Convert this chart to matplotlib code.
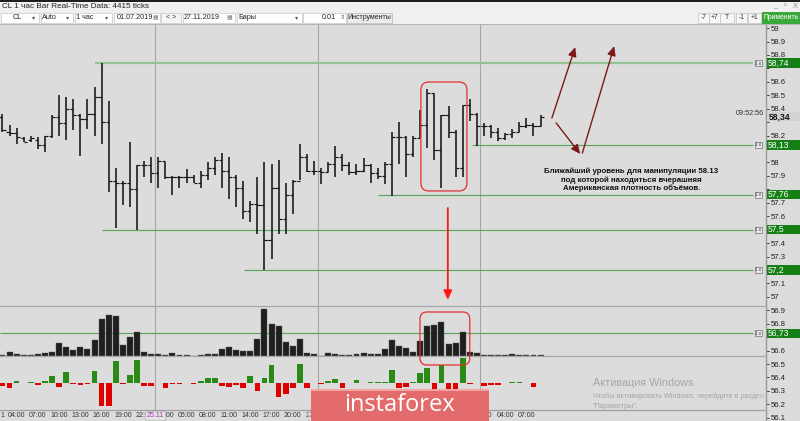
import numpy as np
import matplotlib
matplotlib.use('Agg')
import matplotlib.pyplot as plt
from matplotlib.patches import Rectangle, FancyBboxPatch, FancyArrowPatch
from matplotlib.transforms import IdentityTransform, blended_transform_factory

plt.rcParams['font.family'] = ['Liberation Sans', 'DejaVu Sans']

# ---------------- data ----------------
open_ = [58.34, 58.23, 58.22, 58.18, 58.17, 58.17, 58.13, 58.20, 58.34, 58.29,
         58.40, 58.35, 58.32, 58.36, 58.49, 58.30, 57.86, 57.85, 57.85, 57.80,
         57.98, 57.98, 57.92, 58.01, 57.89, 57.89, 57.89, 57.89, 57.85, 57.91,
         57.96, 58.02, 57.94, 57.89, 57.81, 57.64, 57.69, 57.68, 57.42, 57.81,
         57.58, 57.76, 57.86, 58.04, 57.94, 57.94, 57.93, 57.99, 58.04, 57.98,
         57.93, 57.94, 57.98, 57.92, 57.90, 57.99, 58.19, 58.19, 58.06, 58.18,
         58.28, 58.52, 58.09, 58.35, 58.23, 57.96, 58.43, 58.36, 58.27, 58.27,
         58.23, 58.18, 58.21, 58.23, 58.27, 58.28, 58.27]
high = [58.36, 58.28, 58.26, 58.19, 58.20, 58.19, 58.20, 58.35, 58.50, 58.49,
        58.47, 58.36, 58.47, 58.56, 58.74, 58.46, 57.96, 57.86, 58.15, 57.98,
        58.01, 58.04, 58.04, 58.00, 57.90, 57.90, 57.95, 57.91, 57.94, 58.00,
        58.04, 58.07, 58.04, 57.91, 57.86, 57.71, 57.89, 58.00, 57.99, 58.02,
        57.85, 57.87, 58.14, 58.06, 58.01, 57.96, 58.00, 58.12, 58.06, 58.00,
        57.99, 58.03, 57.99, 57.96, 58.00, 58.23, 58.30, 58.20, 58.20, 58.39,
        58.55, 58.51, 58.35, 58.42, 58.24, 58.43, 58.47, 58.37, 58.29, 58.28,
        58.26, 58.22, 58.25, 58.30, 58.33, 58.29, 58.35]
low = [58.23, 58.20, 58.14, 58.15, 58.15, 58.10, 58.08, 58.18, 58.20, 58.17,
       58.24, 58.05, 58.25, 58.20, 58.14, 57.78, 57.51, 57.68, 57.67, 57.50,
       57.89, 57.85, 57.81, 57.88, 57.76, 57.81, 57.85, 57.85, 57.81, 57.87,
       57.91, 57.81, 57.73, 57.67, 57.58, 57.56, 57.47, 57.20, 57.28, 57.47,
       57.47, 57.62, 57.87, 57.93, 57.91, 57.84, 57.93, 57.89, 57.94, 57.91,
       57.91, 57.93, 57.85, 57.88, 57.84, 57.75, 57.99, 57.89, 58.04, 58.18,
       58.11, 58.02, 57.81, 58.18, 57.89, 57.89, 58.31, 58.12, 58.20, 58.18,
       58.16, 58.17, 58.18, 58.23, 58.26, 58.20, 58.27]
close = [58.24, 58.22, 58.19, 58.15, 58.18, 58.13, 58.20, 58.34, 58.29, 58.40,
         58.35, 58.32, 58.36, 58.49, 58.30, 57.86, 57.85, 57.85, 57.80, 57.98,
         57.98, 57.92, 58.01, 57.89, 57.89, 57.89, 57.89, 57.85, 57.91, 57.96,
         58.02, 57.94, 57.89, 57.81, 57.64, 57.69, 57.68, 57.42, 57.81, 57.58,
         57.76, 57.86, 58.04, 57.94, 57.94, 57.93, 57.99, 58.04, 57.98, 57.93,
         57.94, 57.98, 57.92, 57.90, 57.99, 58.19, 58.19, 58.06, 58.18, 58.28,
         58.52, 58.09, 58.35, 58.23, 57.96, 58.43, 58.36, 58.27, 58.27, 58.23,
         58.18, 58.21, 58.23, 58.27, 58.28, 58.27, 58.34]
volume = [400, 1100, 600, 400, 200, 500, 800, 1300, 3800, 2700,
          1900, 2800, 2100, 4900, 11000, 12200, 11900, 3400, 5800, 7200,
          1100, 700, 700, 400, 800, 400, 400, 100, 400, 600,
          600, 2100, 2600, 1700, 1500, 1600, 5200, 14200, 9600, 9000,
          4100, 3100, 5200, 1000, 500, 100, 1000, 700, 400, 400,
          600, 800, 600, 700, 2200, 4900, 3100, 2500, 1300, 4500,
          9000, 9400, 10200, 3700, 4000, 7200, 1200, 1000, 300, 300,
          400, 300, 600, 300, 300, 400, 200]
delta = [-800, -1500, 700, 100, 200, -500, 700, 2100, -1100, 3400,
         -400, -600, -200, 3600, -6900, -6900, 6700, -200, 2400, 6900,
         -1000, -1000, 100, -1500, -400, -200, -100, -400, 700, 1500,
         1500, -1000, -1300, -700, -1400, 2000, -2300, 1400, 5500, -4200,
         -3200, -1600, 5600, -1600, 100, -400, 600, 1200, -1600, -100,
         800, 100, 200, 200, 400, 4000, -1500, -1300, 200, 3000,
         4500, -1700, 5400, -1700, -1700, 7500, -200, 0, -1000, -500,
         -500, 100, 400, 400, 100, -1200, 100]

levels = [58.74, 58.13, 57.76, 57.5, 57.2, 56.73]
level_labels = ['58,74', '58,13', '57,76', '57,5', '57,2', '56,73']
level_start_bar = [13.1, 66.3, 53.0, 14.0, 34.1, -0.4]
last_price = 58.34
last_price_label = '58,34'
server_time = '09:52:56'
days = ['24.11', '25.11', '26.11', '27.11']
day_first_hour = [2, 1, 1, 1]
day_bar_count = [22, 23, 23, 9]
note = ('Ближайший уровень для манипуляции 58.13\n'
        'под которой находиться вчерашняя\n'
        'Американская плотность объёмов.')

# ---------------- figure ----------------
W, H = 800, 421
BG = '#dcdcdc'
fig = plt.figure(figsize=(8, 4.21), dpi=100)
fig.patch.set_facecolor(BG)

def fx(x):
    return x / W

def fy(y):
    return 1 - y / H

def frect(x0, y0, x1, y1, z=10, **kw):
    r = Rectangle((fx(x0), fy(y1)), (x1 - x0) / W, (y1 - y0) / H,
                  transform=fig.transFigure, zorder=z, **kw)
    fig.add_artist(r)
    return r

def ftext(x, y, s, z=11, **kw):
    kw.setdefault('va', 'center')
    return fig.text(fx(x), fy(y), s, zorder=z, **kw)

n = len(close)
xs = np.arange(n)
XL = (-0.353, 107.84)
AXW = 766 / W
BANNER = (311, 489)          # pixel span of the watermark banner

def bar_px(k):
    return (k - XL[0]) / (XL[1] - XL[0]) * 766

# price axes
ax = fig.add_axes([0, 0, AXW, 396 / H])
ax.set_facecolor(BG)
ax.set_xlim(*XL)
ax.set_ylim(56.076, 59.023)
for s in ['top', 'left', 'bottom']:
    ax.spines[s].set_visible(False)
ax.spines['right'].set_color('#9a9a9a')
ax.spines['right'].set_linewidth(1.0)
ax.set_xticks([])
ax.yaxis.tick_right()
ticks = np.round(np.arange(56.1, 59.001, 0.1), 1)
covered = levels + [last_price]
ax.set_yticks(ticks)
ax.set_yticklabels(['' if min(abs(t - c) for c in covered) < 0.045 else f'{t:g}' for t in ticks])
ax.tick_params(axis='y', direction='out', length=2.5, width=0.6, colors='#222',
               labelsize=5.6, pad=0.6)

# day separators
ymin_frac = 11 / 396
for k in np.cumsum(day_bar_count)[:-1]:
    ax.axvline(k - 0.5, ymin=ymin_frac, ymax=1, color='#a6a6a6', lw=0.8, zorder=0.5)

# levels
for i, (lv, st) in enumerate(zip(levels, level_start_bar)):
    if i == 0:
        ax.hlines(lv, st, 106.0, colors='#93c293', lw=1.6, zorder=1)
    else:
        ax.hlines(lv, st, 106.0, colors='#5da55d', lw=0.85, zorder=1)

# OHLC bars
ax.vlines(xs, low, high, colors='#151515', lw=1.15, zorder=3)
ax.hlines(open_, xs - 0.45, xs, colors='#151515', lw=0.85, zorder=3)
ax.hlines(close, xs, xs + 0.45, colors='#151515', lw=0.85, zorder=3)

# level markers on right
bt = blended_transform_factory(fig.transFigure, ax.transData)
hh = 4.6 / 134.4
for lv, lab in zip(levels, level_labels):
    ax.text(106.75, lv, '1 x', fontsize=3.3, color='#333', ha='center', va='center',
            zorder=5, bbox=dict(boxstyle='square,pad=0.12', fc='#e6e6e6', ec='#555', lw=0.4))
    ax.add_patch(Rectangle((766.5 / W, lv - hh), 1 - 766.5 / W, 2 * hh, transform=bt,
                           fc='#168016', ec='none', clip_on=False, zorder=6))
    ax.text(768 / W, lv, lab, transform=bt, color='white', fontsize=6.2, ha='left',
            va='center', zorder=7, clip_on=False)

# last price
ax.add_patch(Rectangle((766.5 / W, last_price - hh), 1 - 766.5 / W, 2 * hh, transform=bt,
                       fc='#d2d2d2', ec='none', clip_on=False, zorder=6))
ax.text(769 / W, last_price - 0.005, last_price_label, transform=bt, color='#111', fontsize=6.2,
        fontweight='bold', ha='left', va='center', zorder=7, clip_on=False)
ax.text(764 / W, last_price + 0.022, server_time, transform=bt, color='#333', fontsize=5.2,
        ha='right', va='center', zorder=7, clip_on=False)

# volume axes
vax = fig.add_axes([0, (H - 356) / H, AXW, 50 / H])
vax.patch.set_alpha(0)
vax.set_xlim(*XL)
vax.set_ylim(0, 15000)
vax.set_xticks([]); vax.set_yticks([])
for s in ['left', 'right']:
    vax.spines[s].set_visible(False)
for s in ['top', 'bottom']:
    vax.spines[s].set_color('#a8a8a8'); vax.spines[s].set_linewidth(0.9)
vax.bar(xs, volume, width=0.84, color='#1f1f1f', edgecolor='#5a5a5a', linewidth=0.3)

# delta axes
dax = fig.add_axes([0, 11 / H, AXW, 54 / H])
dax.patch.set_alpha(0)
dax.set_xlim(*XL)
dax.set_ylim(-8100, 8100)
dax.set_yticks([])
for s in ['left', 'right', 'top']:
    dax.spines[s].set_visible(False)
dax.spines['bottom'].set_color('#a0a0a0'); dax.spines['bottom'].set_linewidth(0.9)
dcol = ['#2b8a16' if d >= 0 else '#e00000' for d in delta]
dax.bar(xs, delta, width=0.8, color=dcol, linewidth=0)

# time labels (labels entirely hidden under the watermark banner are skipped)
tick_pos, tick_lab = [], []
k = 0
for dname, h0, cnt in zip(days, day_first_hour, day_bar_count):
    for j in range(cnt):
        if k % 3 == 2:
            px = bar_px(k)
            if not (BANNER[0] + 8 < px < BANNER[1] - 8):
                tick_pos.append(k)
                tick_lab.append(f'{h0 + j:02d}:00')
        k += 1
dax.set_xticks(tick_pos)
dax.set_xticklabels(tick_lab)
dax.tick_params(axis='x', length=0, pad=1.6, labelsize=5.0, colors='#333')
tb = blended_transform_factory(dax.transData, fig.transFigure)
start = 0
for i, cnt in enumerate(day_bar_count):
    if i > 0:
        px = bar_px(start - 0.5)
        if not (BANNER[0] + 8 < px < BANNER[1] + 2):
            dax.text(start - 0.5, fy(415.5), days[i], transform=tb, fontsize=5.0, color='#b030c0',
                     ha='center', va='center', clip_on=False, zorder=8,
                     bbox=dict(boxstyle='square,pad=0.2', fc='#e4e4e4', ec='#b8b8b8', lw=0.5))
    start += cnt
ftext(2, 415.5, '1', fontsize=5.0, color='#333', ha='center')

# annotations: rounded boxes
def rbox(axis, x0, x1, y0, y1, r):
    p0 = axis.transData.transform((x0, y0))
    p1 = axis.transData.transform((x1, y1))
    b = FancyBboxPatch((min(p0[0], p1[0]), min(p0[1], p1[1])), abs(p1[0] - p0[0]), abs(p1[1] - p0[1]),
                       boxstyle=f'round,pad=0,rounding_size={r}', transform=IdentityTransform(),
                       fc='none', ec='#e23030', lw=0.9, zorder=9)
    fig.add_artist(b)

rbox(ax, 59.1, 65.6, 58.599, 57.788, 8)
rbox(vax, 58.97, 66.0, 13200, -2700, 7)

def arrow(x0, y0, x1, y1, color, lw):
    a = FancyArrowPatch((x0, y0), (x1, y1), arrowstyle='-|>,head_length=0.55,head_width=0.25',
                        mutation_scale=10, color=color, lw=lw, zorder=9, shrinkA=0, shrinkB=0,
                        clip_on=False)
    ax.add_patch(a)

arrow(62.9, 57.661, 62.9, 56.977, '#ff1a1a', 1.3)
MR = '#7c1a1a'
arrow(77.6, 58.331, 80.9, 58.859, MR, 1.0)
arrow(78.2, 58.294, 81.6, 58.063, MR, 1.0)
arrow(81.9, 58.07, 86.4, 58.866, MR, 1.0)

ax.text(88.8, 57.869, note, fontsize=5.7, fontweight='bold', color='#111', ha='center',
        va='center', zorder=9, linespacing=1.2)

# ---------------- toolbar ----------------
frect(0, 0, 800, 24.5, fc='#f0f0f0', ec='none')
frect(0, 0, 800, 1.5, fc='#1e1e1e', ec='none')
frect(0, 24, 800, 25, fc='#b4b4b4', ec='none')
ftext(2, 6.5, 'CL 1 час Bar Real-Time Data: 4415 ticks', fontsize=5.9, color='#222')
ftext(775, 6, '_', fontsize=5.5, color='#888', ha='center')
ftext(785, 6, '▫', fontsize=5.5, color='#888', ha='center')
ftext(795, 6, 'X', fontsize=5.5, color='#888', ha='center')

boxes = [(0, 39, 'CL', 13, True), (40, 73, 'Auto', 42, True), (74, 112, '1 час', 76, True),
         (113, 160, '01.07.2019', 117, False), (182, 235, '27.11.2019', 184, False),
         (236, 302, 'Бары', 238, True)]
for x0, x1, lab, tx, dd in boxes:
    frect(x0 + 0.5, 12.5, x1, 23, fc='white', ec='#c8c8c8', lw=0.5)
    ftext(tx, 17.8, lab, fontsize=5.2, color='#222')
    if dd:
        ftext(x1 - 5, 17.8, '▾', fontsize=4.5, color='#555', ha='center')
ftext(155.5, 17.8, '▦', fontsize=4.2, color='#888', ha='center')
ftext(229, 17.8, '▦', fontsize=4.2, color='#888', ha='center')
frect(161, 12.5, 181, 23, fc='#f4f4f4', ec='#c8c8c8', lw=0.5)
ftext(171, 17.8, '< >', fontsize=5.0, color='#333', ha='center')
frect(303, 12.5, 346, 23, fc='white', ec='#c8c8c8', lw=0.5)
ftext(336, 17.8, '0.01', fontsize=5.2, color='#222', ha='right')
ftext(342.5, 17.8, '⇕', fontsize=4.6, color='#666', ha='center')
frect(347, 12.5, 392, 23, fc='#ececec', ec='#b8b8b8', lw=0.5)
ftext(369.5, 17.8, 'Инструменты', fontsize=5.0, color='#222', ha='center')
for x0, x1, lab in [(698, 708.5, '-7'), (709, 719.5, '+7'), (720, 734, 'T'),
                    (736, 747, '-1'), (748, 760.5, '+1')]:
    frect(x0, 12.5, x1, 23, fc='#f7f7f7', ec='#c0c0c0', lw=0.5)
    ftext((x0 + x1) / 2, 17.8, lab, fontsize=4.8, color='#333', ha='center')
frect(762, 12, 800, 23.5, fc='#3aa83a', ec='none')
ftext(781, 17.8, 'Применить', fontsize=4.9, color='white', ha='center')

# ---------------- overlays ----------------
frect(BANNER[0], 389, BANNER[1], 421, fc='#e46b6b', ec='none', z=12)
frect(BANNER[0], 389, BANNER[1], 390.5, fc='#f2a3a3', ec='none', z=12)
ftext(400, 405, 'instaforex', fontsize=17, color='white', ha='center', z=13,
      family=['Open Sans', 'DejaVu Sans'])

ftext(593, 383.5, 'Активация Windows', fontsize=7.8, color='#a6a6a6', z=13)
ftext(593, 396.5, 'Чтобы активировать Windows, перейдите в раздел', fontsize=5.2, color='#a6a6a6', z=13)
ftext(593, 406, '"Параметры".', fontsize=5.2, color='#a6a6a6', z=13)

fig.savefig('out.png', dpi=100, facecolor=fig.get_facecolor())
